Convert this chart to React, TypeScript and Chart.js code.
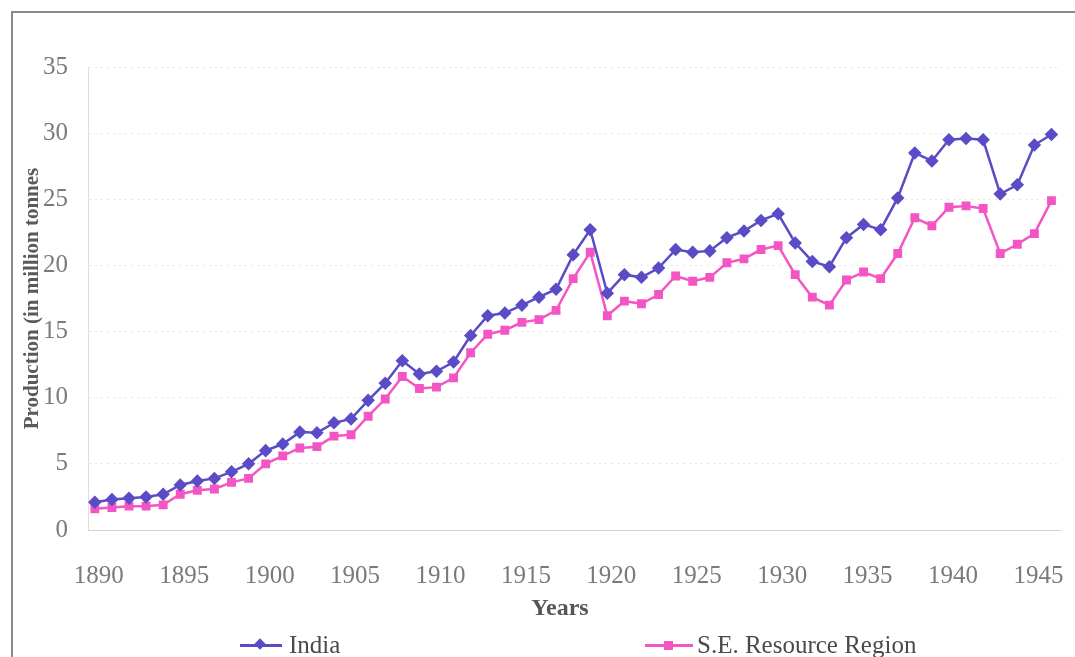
import React, { useEffect, useRef } from 'react';
import { Chart, registerables } from 'chart.js';

Chart.register(...registerables);

const years = [
  1890, 1891, 1892, 1893, 1894, 1895, 1896, 1897, 1898, 1899,
  1900, 1901, 1902, 1903, 1904, 1905, 1906, 1907, 1908, 1909,
  1910, 1911, 1912, 1913, 1914, 1915, 1916, 1917, 1918, 1919,
  1920, 1921, 1922, 1923, 1924, 1925, 1926, 1927, 1928, 1929,
  1930, 1931, 1932, 1933, 1934, 1935, 1936, 1937, 1938, 1939,
  1940, 1941, 1942, 1943, 1944, 1945, 1946,
];

const india = [
  2.1, 2.3, 2.4, 2.5, 2.7, 3.4, 3.7, 3.9, 4.4, 5.0,
  6.0, 6.5, 7.4, 7.35, 8.1, 8.4, 9.8, 11.1, 12.8, 11.8,
  12.0, 12.7, 14.7, 16.2, 16.4, 17.0, 17.6, 18.2, 20.8, 22.7,
  17.9, 19.3, 19.1, 19.8, 21.2, 21.0, 21.1, 22.1, 22.6, 23.4,
  23.9, 21.7, 20.3, 19.9, 22.1, 23.1, 22.7, 25.1, 28.5, 27.9,
  29.5, 29.6, 29.5, 25.4, 26.1, 29.1, 29.9,
];

const seRegion = [
  1.6, 1.7, 1.8, 1.8, 1.9, 2.7, 3.0, 3.1, 3.6, 3.9,
  5.0, 5.6, 6.2, 6.3, 7.1, 7.2, 8.6, 9.9, 11.6, 10.7,
  10.8, 11.5, 13.4, 14.8, 15.1, 15.7, 15.9, 16.6, 19.0, 21.0,
  16.2, 17.3, 17.1, 17.8, 19.2, 18.8, 19.1, 20.2, 20.5, 21.2,
  21.5, 19.3, 17.6, 17.0, 18.9, 19.5, 19.0, 20.9, 23.6, 23.0,
  24.4, 24.5, 24.3, 20.9, 21.6, 22.4, 24.9,
];

const xTicks = [1890, 1895, 1900, 1905, 1910, 1915, 1920, 1925, 1930, 1935, 1940, 1945];
const yTicks = [0, 5, 10, 15, 20, 25, 30, 35];

const seriesNames = ['India', 'S.E. Resource Region'];
const xTitle = 'Years';
const yTitle = 'Production (in million tonnes';

const INDIA_COLOR = '#5a4cc6';
const SE_COLOR = '#f455c4';
const FONT = '"Liberation Serif", "Times New Roman", serif';

export default function App() {
  const ref = useRef<HTMLCanvasElement | null>(null);

  useEffect(() => {
    if (!ref.current) return;
    const chart = new Chart(ref.current, {
      type: 'line',
      data: {
        datasets: [
          {
            label: seriesNames[0],
            data: years.map((y, i) => ({ x: y, y: india[i] })),
            borderColor: INDIA_COLOR,
            backgroundColor: INDIA_COLOR,
            pointBorderColor: INDIA_COLOR,
            pointBackgroundColor: INDIA_COLOR,
            pointStyle: 'rectRot',
            pointRadius: 5,
            borderWidth: 2.5,
            tension: 0,
          },
          {
            label: seriesNames[1],
            data: years.map((y, i) => ({ x: y, y: seRegion[i] })),
            borderColor: SE_COLOR,
            backgroundColor: SE_COLOR,
            pointBorderColor: SE_COLOR,
            pointBackgroundColor: SE_COLOR,
            pointStyle: 'rect',
            pointRadius: 4.5,
            borderWidth: 2.5,
            tension: 0,
          },
        ],
      },
      options: {
        animation: false,
        responsive: false,
        layout: { padding: { left: 0, top: 67, right: 15, bottom: 35 } },
        plugins: {
          legend: { display: false },
          tooltip: { enabled: false },
        },
        scales: {
          x: {
            type: 'linear',
            min: 1889.6,
            max: 1946.5,
            afterBuildTicks: (s: any) => {
              s.ticks = xTicks.map((v) => ({ value: v }));
            },
            afterFit: (s: any) => {
              s.height = 92;
              s.paddingLeft = 0;
              s.paddingRight = 0;
            },
            grid: { display: false, drawTicks: false },
            border: { display: true, color: 'rgba(185,185,185,0.6)', dash: [2, 3] },
            ticks: {
              padding: 31,
              labelOffset: 4,
              maxRotation: 0,
              autoSkip: false,
              color: '#7a7a7a',
              font: { family: FONT, size: 25 },
              callback: (v: any) => String(v),
            },
            title: { display: false },
          },
          y: {
            type: 'linear',
            min: 0,
            max: 35,
            afterBuildTicks: (s: any) => {
              s.ticks = yTicks.map((v) => ({ value: v }));
            },
            afterFit: (s: any) => {
              s.width = 88;
              s.paddingTop = 0;
              s.paddingBottom = 0;
            },
            grid: { color: 'rgba(200,200,200,0.45)', drawTicks: false },
            border: { display: true, color: 'rgba(200,200,200,0.6)', dash: [2, 4] },
            ticks: {
              padding: 20,
              color: '#7a7a7a',
              font: { family: FONT, size: 25 },
              callback: (v: any) => String(v),
            },
            title: {
              display: true,
              text: yTitle,
              color: '#5a5a5a',
              font: { family: FONT, size: 21, weight: 'bold' },
              padding: { top: 20, bottom: 0 },
            },
          },
        },
      },
    });
    return () => chart.destroy();
  }, []);

  const legendText: React.CSSProperties = {
    position: 'absolute',
    top: 631,
    fontFamily: FONT,
    fontSize: 25,
    color: '#4a4a4a',
    lineHeight: '28px',
    whiteSpace: 'nowrap',
  };

  return (
    <div
      style={{
        position: 'fixed',
        left: 0,
        top: 0,
        width: 1075,
        height: 657,
        overflow: 'hidden',
        background: '#ffffff',
      }}
    >
      <div
        style={{
          position: 'absolute',
          left: 11,
          top: 11,
          width: 1200,
          height: 800,
          borderTop: '2px solid #8a8a8a',
          borderLeft: '2px solid #8a8a8a',
        }}
      />
      <canvas ref={ref} width={1075} height={657} style={{ position: 'absolute', left: 0, top: 0 }} />
      <div
        style={{
          position: 'absolute',
          left: 460,
          width: 200,
          top: 593,
          textAlign: 'center',
          fontFamily: FONT,
          fontSize: 24,
          fontWeight: 'bold',
          color: '#555555',
          lineHeight: '28px',
        }}
      >
        {xTitle}
      </div>
      {/* India legend */}
      <div style={{ position: 'absolute', left: 240, top: 644, width: 42, height: 3, background: INDIA_COLOR }} />
      <div
        style={{
          position: 'absolute',
          left: 256,
          top: 640,
          width: 8,
          height: 8,
          background: INDIA_COLOR,
          transform: 'rotate(45deg)',
        }}
      />
      <div style={{ ...legendText, left: 289 }}>{seriesNames[0]}</div>
      {/* SE legend */}
      <div style={{ position: 'absolute', left: 645, top: 644, width: 48, height: 3, background: SE_COLOR }} />
      <div style={{ position: 'absolute', left: 664, top: 641, width: 9, height: 9, background: SE_COLOR }} />
      <div style={{ ...legendText, left: 697 }}>{seriesNames[1]}</div>
    </div>
  );
}
